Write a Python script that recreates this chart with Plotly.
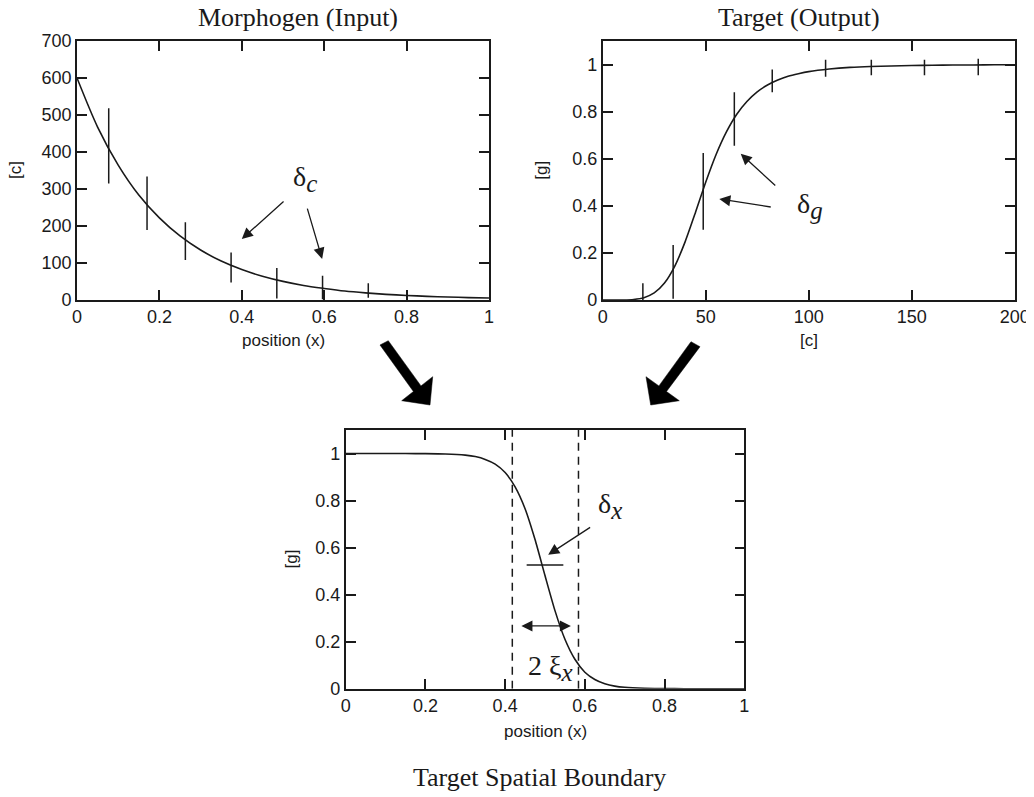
import plotly.graph_objects as go

# the page body adds an 8px margin; the figure is laid out in reference
# pixel coordinates shifted by that offset
OFF = 8
W, H = 1034 - OFF, 797 - OFF

# ---------------- data ----------------
# Morphogen (Input): concentration c vs position x
morph_x = [0, 0.05, 0.1, 0.15, 0.2, 0.25, 0.3, 0.35, 0.4, 0.45, 0.5,
           0.55, 0.6, 0.65, 0.7, 0.75, 0.8, 0.85, 0.9, 0.95, 1.0]
morph_c = [600, 467, 364, 283, 221, 172, 134, 104, 81, 63, 49,
           38, 30, 23, 18, 14, 11, 8.5, 6.7, 5.2, 4.0]
morph_bar_x = [0.077, 0.170, 0.263, 0.374, 0.485, 0.596, 0.707]
morph_bar_top = [518, 333, 209, 127, 85, 64, 44]
morph_bar_bottom = [314, 188, 107, 46, 3, 0, 5]

# Target (Output): g vs c
target_c = [0, 5, 10, 15, 20, 25, 30, 35, 40, 45, 50, 55, 60, 65, 70, 75,
            80, 85, 90, 95, 100, 110, 120, 130, 140, 150, 160, 170, 180, 190, 200]
target_g = [0, 0, 0.0003, 0.0024, 0.010, 0.030, 0.072, 0.144, 0.247, 0.371,
            0.50, 0.617, 0.713, 0.788, 0.843, 0.884, 0.913, 0.934, 0.950, 0.961,
            0.970, 0.981, 0.988, 0.992, 0.994, 0.996, 0.997, 0.998, 0.998, 0.999, 0.999]
target_bar_c = [19.5, 34.2, 48.8, 63.9, 82.3, 108.2, 130.4, 156.2, 182.3]
target_bar_top = [0.071, 0.234, 0.624, 0.882, 0.979, 1.02, 1.02, 1.02, 1.025]
target_bar_bottom = [-0.026, 0.005, 0.298, 0.655, 0.882, 0.948, 0.955, 0.955, 0.955]

# Target Spatial Boundary: g vs position x
bound_x = [0, 0.05, 0.1, 0.15, 0.2, 0.25, 0.3, 0.325, 0.35, 0.375, 0.4, 0.425,
           0.45, 0.475, 0.5, 0.525, 0.55, 0.575, 0.6, 0.625, 0.65, 0.675, 0.7,
           0.75, 0.8, 0.85, 0.9, 0.95, 1.0]
bound_g = [1, 1, 1, 0.9998, 0.9994, 0.998, 0.993, 0.987, 0.975, 0.955, 0.919,
           0.858, 0.765, 0.634, 0.481, 0.332, 0.210, 0.125, 0.070, 0.039, 0.021,
           0.011, 0.006, 0.002, 0.0005, 0.0001, 0, 0, 0]
boundary_dashes = [0.418, 0.584]
delta_x_seg = [0.454, 0.546]
delta_x_level = 0.526
xi_span = [0.437, 0.565]
xi_level = 0.267

INK = '#1a1a1a'
SANS = 'Liberation Sans'
SERIF = 'Liberation Serif'


def px(x):
    return (x - OFF) / W


def py(y):
    return 1 - (y - OFF) / H


def segments(xs, lows, highs):
    sx, sy = [], []
    for x, lo, hi in zip(xs, lows, highs):
        sx += [x, x, None]
        sy += [lo, hi, None]
    return sx, sy


fig = go.Figure()

# --- top-left: morphogen
fig.add_trace(go.Scatter(x=morph_x, y=morph_c, mode='lines',
                         line=dict(color=INK, width=1.6, shape='spline', smoothing=0.8),
                         xaxis='x', yaxis='y', hoverinfo='skip'))
sx, sy = segments(morph_bar_x, morph_bar_bottom, morph_bar_top)
fig.add_trace(go.Scatter(x=sx, y=sy, mode='lines', line=dict(color=INK, width=1.5),
                         xaxis='x', yaxis='y', hoverinfo='skip'))

# --- top-right: target
fig.add_trace(go.Scatter(x=target_c, y=target_g, mode='lines',
                         line=dict(color=INK, width=1.6, shape='spline', smoothing=0.6),
                         xaxis='x2', yaxis='y2', hoverinfo='skip'))
sx, sy = segments(target_bar_c, target_bar_bottom, target_bar_top)
fig.add_trace(go.Scatter(x=sx, y=sy, mode='lines', line=dict(color=INK, width=1.5),
                         xaxis='x2', yaxis='y2', hoverinfo='skip'))

# --- bottom: boundary
fig.add_trace(go.Scatter(x=bound_x, y=bound_g, mode='lines',
                         line=dict(color=INK, width=1.6, shape='spline', smoothing=0.6),
                         xaxis='x3', yaxis='y3', hoverinfo='skip'))
fig.add_trace(go.Scatter(x=delta_x_seg, y=[delta_x_level, delta_x_level], mode='lines',
                         line=dict(color=INK, width=1.5),
                         xaxis='x3', yaxis='y3', hoverinfo='skip'))
dx, dy = [], []
for xd in boundary_dashes:
    dx += [xd, xd, None]
    dy += [0, 1.1, None]
fig.add_trace(go.Scatter(x=dx, y=dy, mode='lines',
                         line=dict(color=INK, width=1.5, dash='8px,6px'),
                         xaxis='x3', yaxis='y3', hoverinfo='skip'))


def axis(domain, rng, dtick, anchor):
    return dict(domain=domain, range=rng, dtick=dtick, anchor=anchor,
                showline=True, linecolor=INK, linewidth=1.6, mirror='ticks',
                ticks='inside', ticklen=10, tickwidth=1.5, tickcolor=INK,
                showgrid=False, zeroline=False, automargin=False,
                tickfont=dict(family=SANS, size=18, color=INK))


fig.update_layout(
    width=W, height=H, margin=dict(l=0, r=0, t=0, b=0),
    paper_bgcolor='white', plot_bgcolor='white', showlegend=False,
    xaxis=axis([px(77), px(489)], [0, 1], 0.2, 'y'),
    yaxis=axis([py(299.5), py(41)], [0, 700], 100, 'x'),
    xaxis2=axis([px(602.7), px(1014.7)], [0, 200], 50, 'y2'),
    yaxis2=axis([py(300), py(41)], [0, 1.1], 0.2, 'x2'),
    xaxis3=axis([px(345.7), px(744.3)], [0, 1], 0.2, 'y3'),
    yaxis3=axis([py(688.7), py(430)], [0, 1.1], 0.2, 'x3'),
)

ann = []


def text(x, y, s, size, family=SERIF, angle=0):
    ann.append(dict(x=px(x), y=py(y), xref='paper', yref='paper', text=s,
                    showarrow=False, textangle=angle, xanchor='center', yanchor='middle',
                    font=dict(family=family, size=size, color=INK)))


# titles
text(298, 17.5, 'Morphogen (Input)', 26)
text(799, 17.5, 'Target (Output)', 26)
text(539, 777, 'Target Spatial Boundary', 26)
# axis titles
text(16, 170, '[c]', 17, SANS, -90)
text(283, 341, 'position (x)', 17, SANS)
text(541.7, 170, '[g]', 17, SANS, -90)
text(808.7, 341, '[c]', 17, SANS)
text(291, 559.4, '[g]', 17, SANS, -90)
text(545, 731, 'position (x)', 17, SANS)


def arrow(xr, yr, head, tail, sides='end'):
    ann.append(dict(xref=xr, yref=yr, axref=xr, ayref=yr,
                    x=head[0], y=head[1], ax=tail[0], ay=tail[1], text='',
                    showarrow=True, arrowhead=2, arrowsize=1.7, arrowwidth=1.3,
                    arrowcolor=INK, arrowside=sides, standoff=0, startstandoff=0))


def label(xr, yr, pos, s, size=28):
    ann.append(dict(xref=xr, yref=yr, x=pos[0], y=pos[1], text=s, showarrow=False,
                    xanchor='center', yanchor='middle',
                    font=dict(family=SERIF, size=size, color=INK)))


def sub(ch):
    return f'<sub><i><span style="font-size:25px">{ch}</span></i></sub>'


# delta_c
label('x', 'y', (0.553, 325), 'δ' + sub('c'))
arrow('x', 'y', (0.400, 164), (0.505, 269))
arrow('x', 'y', (0.595, 110), (0.558, 250))
# delta_g
label('x2', 'y2', (100.5, 0.40), 'δ' + sub('g'))
arrow('x2', 'y2', (67.0, 0.621), (84.5, 0.48))
arrow('x2', 'y2', (56.6, 0.429), (82.3, 0.394))
# delta_x
label('x3', 'y3', (0.663, 0.775), 'δ' + sub('x'))
arrow('x3', 'y3', (0.508, 0.570), (0.617, 0.690))
# 2 xi_x
label('x3', 'y3', (0.515, 0.09), '2 ξ' + sub('x'))
arrow('x3', 'y3', (xi_span[1], xi_level), (xi_span[0], xi_level), 'end+start')

fig.update_layout(annotations=ann)

# big flow arrows (decoration, reference pixel coordinates -> paper)
left_arrow = [(380, 345), (388.3, 340.7), (421, 385.9), (432.7, 376.7),
              (430, 405), (401.7, 400.7), (413.4, 391.5)]
right_arrow = [(691, 341.7), (700, 346.7), (666.5, 391.5), (679.3, 400.7),
               (650.7, 405), (646, 376.7), (658.9, 385.9)]
for poly in (left_arrow, right_arrow):
    path = 'M ' + ' L '.join(f'{px(a):.5f},{py(b):.5f}' for a, b in poly) + ' Z'
    fig.add_shape(type='path', path=path, xref='paper', yref='paper',
                  fillcolor='black', line=dict(color='black', width=0.5))

fig.write_html('out.html')
